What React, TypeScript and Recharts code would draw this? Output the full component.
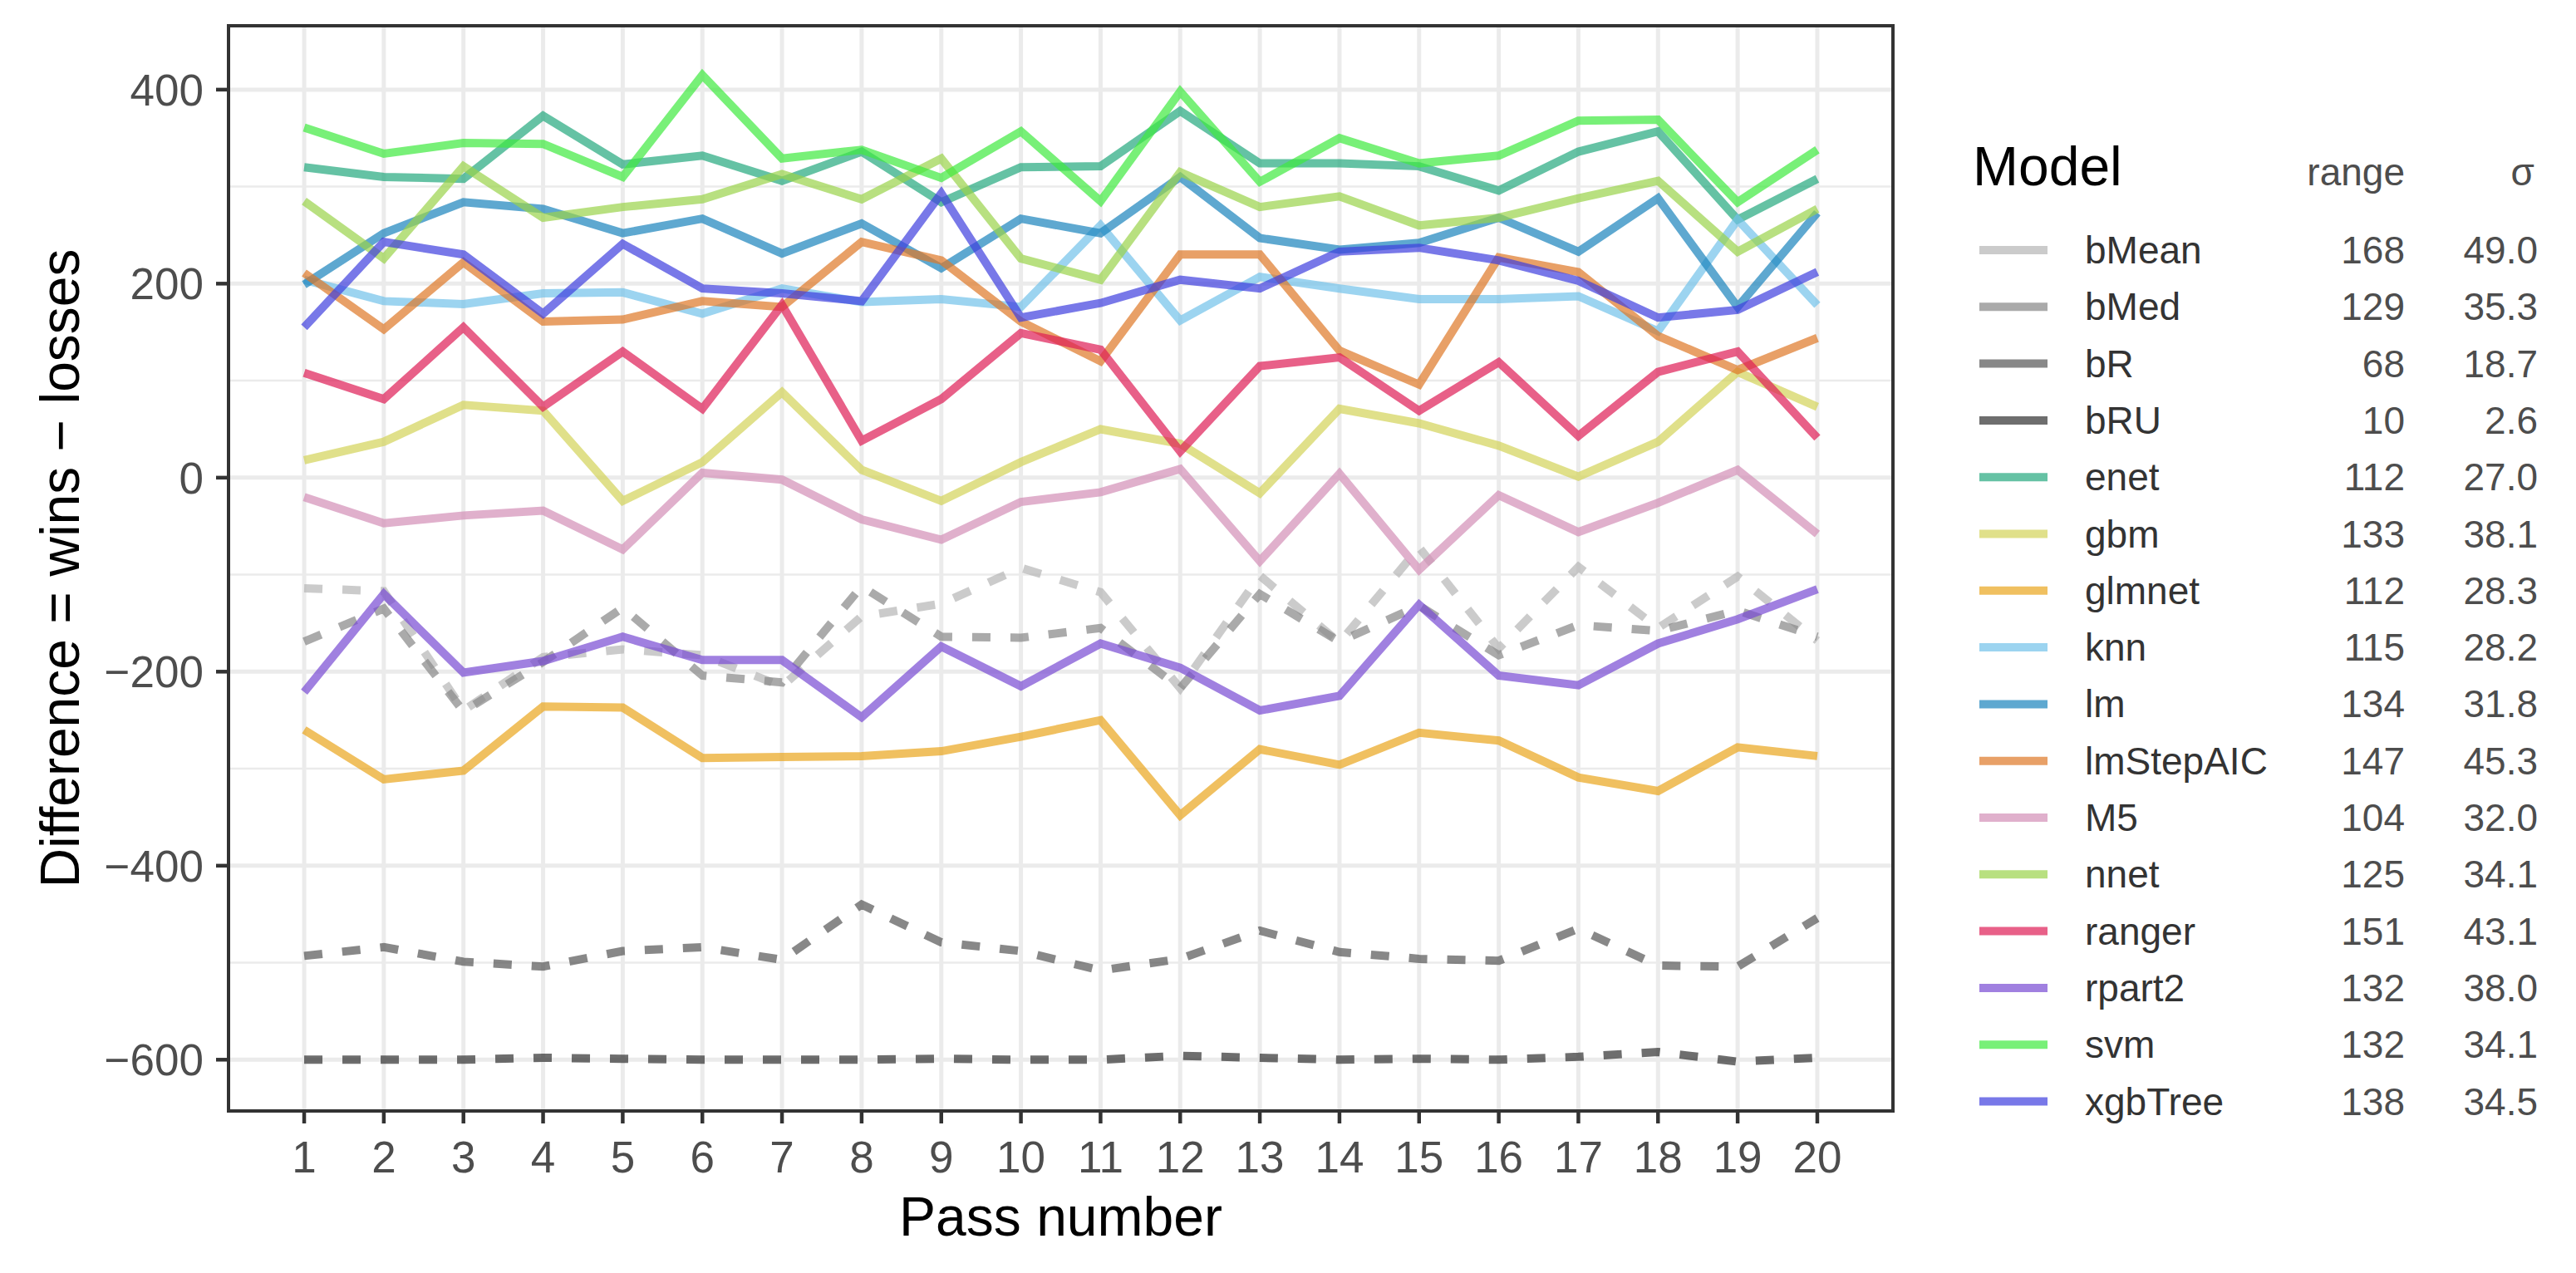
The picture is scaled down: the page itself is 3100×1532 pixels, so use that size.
import React from 'react';
import { LineChart, Line, XAxis, YAxis, CartesianGrid, ReferenceArea, Legend, Label } from 'recharts';

const FONT = '"Liberation Sans", Arial, Helvetica, sans-serif';

const passes = [1, 2, 3, 4, 5, 6, 7, 8, 9, 10, 11, 12, 13, 14, 15, 16, 17, 18, 19, 20];

const bMean = [-114, -117, -240, -185, -177, -183, -215, -143, -130, -93, -118, -217, -101, -170, -72, -176, -92, -155, -102, -168];
const bMed = [-169, -135, -241, -190, -134, -204, -211, -112, -164, -165, -155, -217, -120, -169, -132, -183, -152, -158, -137, -164];
const bR = [-493, -484, -499, -504, -488, -484, -497, -440, -479, -488, -508, -496, -467, -489, -496, -498, -465, -503, -504, -454];
const bRU = [-600, -600, -600, -598, -599, -600, -600, -600, -599, -600, -600, -596, -598, -600, -599, -600, -597, -592, -602, -598];
const enet = [320, 310, 308, 373, 323, 332, 306, 336, 284, 320, 321, 378, 324, 324, 321, 296, 336, 357, 266, 308];
const gbm = [18, 37, 75, 69, -24, 16, 88, 8, -24, 16, 50, 35, -16, 71, 56, 33, 1, 37, 109, 73];
const glmnet = [-260, -311, -302, -236, -237, -289, -288, -287, -282, -267, -250, -348, -280, -296, -263, -271, -309, -323, -278, -287];
const knn = [204, 182, 179, 190, 191, 169, 195, 181, 184, 176, 260, 162, 207, 195, 184, 184, 187, 151, 266, 178];
const lm = [199, 252, 284, 277, 252, 267, 231, 262, 216, 267, 252, 310, 247, 235, 242, 268, 233, 288, 176, 273];
const lmStepAIC = [211, 153, 222, 161, 163, 182, 176, 243, 224, 161, 120, 230, 230, 131, 96, 227, 212, 146, 111, 144];
const M5 = [-20, -47, -39, -34, -74, 5, -2, -43, -64, -25, -15, 9, -86, 4, -95, -18, -56, -26, 8, -58];
const nnet = [285, 226, 321, 268, 279, 287, 313, 287, 329, 226, 204, 315, 279, 290, 260, 268, 288, 306, 233, 277];
const ranger = [108, 81, 155, 73, 130, 71, 178, 38, 81, 149, 132, 27, 115, 124, 69, 119, 43, 109, 130, 41];
const rpart2 = [-221, -120, -201, -189, -164, -188, -188, -247, -174, -215, -171, -196, -240, -225, -131, -204, -214, -171, -146, -115];
const svm = [361, 334, 345, 344, 310, 415, 329, 338, 309, 357, 285, 398, 305, 350, 324, 332, 368, 369, 284, 338];
const xgbTree = [155, 243, 230, 169, 241, 195, 190, 182, 293, 165, 180, 204, 195, 233, 237, 224, 203, 165, 173, 212];

const modelNames = ['bMean', 'bMed', 'bR', 'bRU', 'enet', 'gbm', 'glmnet', 'knn', 'lm', 'lmStepAIC', 'M5', 'nnet', 'ranger', 'rpart2', 'svm', 'xgbTree'];
const modelValues = [bMean, bMed, bR, bRU, enet, gbm, glmnet, knn, lm, lmStepAIC, M5, nnet, ranger, rpart2, svm, xgbTree];
const modelRanges = ['168', '129', '68', '10', '112', '133', '112', '115', '134', '147', '104', '125', '151', '132', '132', '138'];
const modelSigmas = ['49.0', '35.3', '18.7', '2.6', '27.0', '38.1', '28.3', '28.2', '31.8', '45.3', '32.0', '34.1', '43.1', '38.0', '34.1', '34.5'];
const modelColors = ['#b5b5b5', '#868686', '#555555', '#303030', '#24a87e', '#d3d358', '#eaa51c', '#72c2ea', '#1a83bc', '#de7727', '#d38eb6', '#9ad34a', '#de1c55', '#774ad3', '#3eea3e', '#3e3ede'];
const dashedModels = ['bMean', 'bMed', 'bR', 'bRU'];

const yTicks = [-600, -400, -200, 0, 200, 400];
const yMinor = [-500, -300, -100, 100, 300];

const data = passes.map((p, i) => {
  const row: Record<string, number> = { pass: p };
  modelNames.forEach((n, j) => {
    row[n] = modelValues[j][i];
  });
  return row;
});

const allVals = modelValues.flat();
const dMin = Math.min(...allVals);
const dMax = Math.max(...allVals);
const pad = (dMax - dMin) * 0.05;
const yDomain = [dMin - pad, dMax + pad];
const xPad = (passes[passes.length - 1] - passes[0]) * 0.05;
const xDomain = [passes[0] - xPad, passes[passes.length - 1] + xPad];

const fmt = (v: number) => (v < 0 ? '\u2212' + Math.abs(v) : String(v));

function LegendBox() {
  const rowY0 = 201;
  const rowH = 68.3;
  return (
    <svg width={800} height={1300} style={{ display: 'block', fontFamily: FONT }}>
      <text x={74} y={123} fontSize={66} fill="#000000">Model</text>
      <text x={594} y={123} fontSize={46} fill="#4d4d4d" textAnchor="end">range</text>
      <text x={750} y={123} fontSize={46} fill="#4d4d4d" textAnchor="end">σ</text>
      {modelNames.map((n, i) => {
        const cy = rowY0 + i * rowH;
        return (
          <g key={n}>
            <line x1={82} x2={164} y1={cy} y2={cy} stroke={modelColors[i]} strokeOpacity={0.7} strokeWidth={10} />
            <text x={209} y={cy + 16} fontSize={46} fill="#333333">{n}</text>
            <text x={594} y={cy + 16} fontSize={46} fill="#4d4d4d" textAnchor="end">{modelRanges[i]}</text>
            <text x={754} y={cy + 16} fontSize={46} fill="#4d4d4d" textAnchor="end">{modelSigmas[i]}</text>
          </g>
        );
      })}
    </svg>
  );
}

export default function App() {
  return (
    <div style={{ position: 'absolute', left: 0, top: 0, width: 3100, height: 1532, background: '#ffffff', fontFamily: FONT }}>
      <style>{'body{margin:0;overflow:hidden;}'}</style>
      <LineChart width={3100} height={1532} data={data} margin={{ top: 31, right: 822, bottom: 75, left: 75 }}>
        <CartesianGrid horizontalValues={yMinor} vertical={false} stroke="#ebebeb" strokeWidth={2.5} />
        <CartesianGrid horizontalValues={yTicks} verticalValues={passes} stroke="#ebebeb" strokeWidth={5} />
        <XAxis
          dataKey="pass"
          type="number"
          domain={xDomain}
          ticks={passes}
          interval={0}
          allowDataOverflow
          axisLine={false}
          tickLine={{ stroke: '#333333', strokeWidth: 4.5 }}
          tickSize={15}
          tickMargin={21}
          height={120}
          tick={{ fontSize: 53, fill: '#4d4d4d', fontFamily: FONT }}
        >
          <Label
            content={() => (
              <text x={1276.5} y={1487} textAnchor="middle" fontSize={66} fill="#000000" fontFamily={FONT}>
                Pass number
              </text>
            )}
          />
        </XAxis>
        <YAxis
          type="number"
          domain={yDomain}
          ticks={yTicks}
          interval={0}
          allowDataOverflow
          axisLine={false}
          tickLine={{ stroke: '#333333', strokeWidth: 4.5 }}
          tickSize={15}
          tickMargin={15}
          width={200}
          tickFormatter={fmt}
          tick={{ fontSize: 53, fill: '#4d4d4d', fontFamily: FONT }}
        >
          <Label
            content={() => (
              <text x={95} y={684} transform="rotate(-90 95 684)" textAnchor="middle" fontSize={66} fill="#000000" fontFamily={FONT}>
                Difference = wins − losses
              </text>
            )}
          />
        </YAxis>
        {modelNames.map((n, j) => (
          <Line
            key={n}
            dataKey={n}
            type="linear"
            stroke={modelColors[j]}
            strokeOpacity={0.7}
            strokeWidth={10}
            strokeDasharray={dashedModels.includes(n) ? '22 24' : undefined}
            strokeLinejoin="miter"
            strokeLinecap="butt"
            strokeMiterlimit={10}
            dot={false}
            activeDot={false}
            isAnimationActive={false}
          />
        ))}
        <ReferenceArea
          x1={xDomain[0]}
          x2={xDomain[1]}
          y1={yDomain[0]}
          y2={yDomain[1]}
          fill="none"
          stroke="#333333"
          strokeWidth={4}
          ifOverflow="visible"
        />
        <Legend
          layout="vertical"
          align="center"
          verticalAlign="middle"
          content={() => <LegendBox />}
          wrapperStyle={{ position: 'absolute', left: 2300, top: 100, width: 800, height: 1300 }}
        />
      </LineChart>
    </div>
  );
}
